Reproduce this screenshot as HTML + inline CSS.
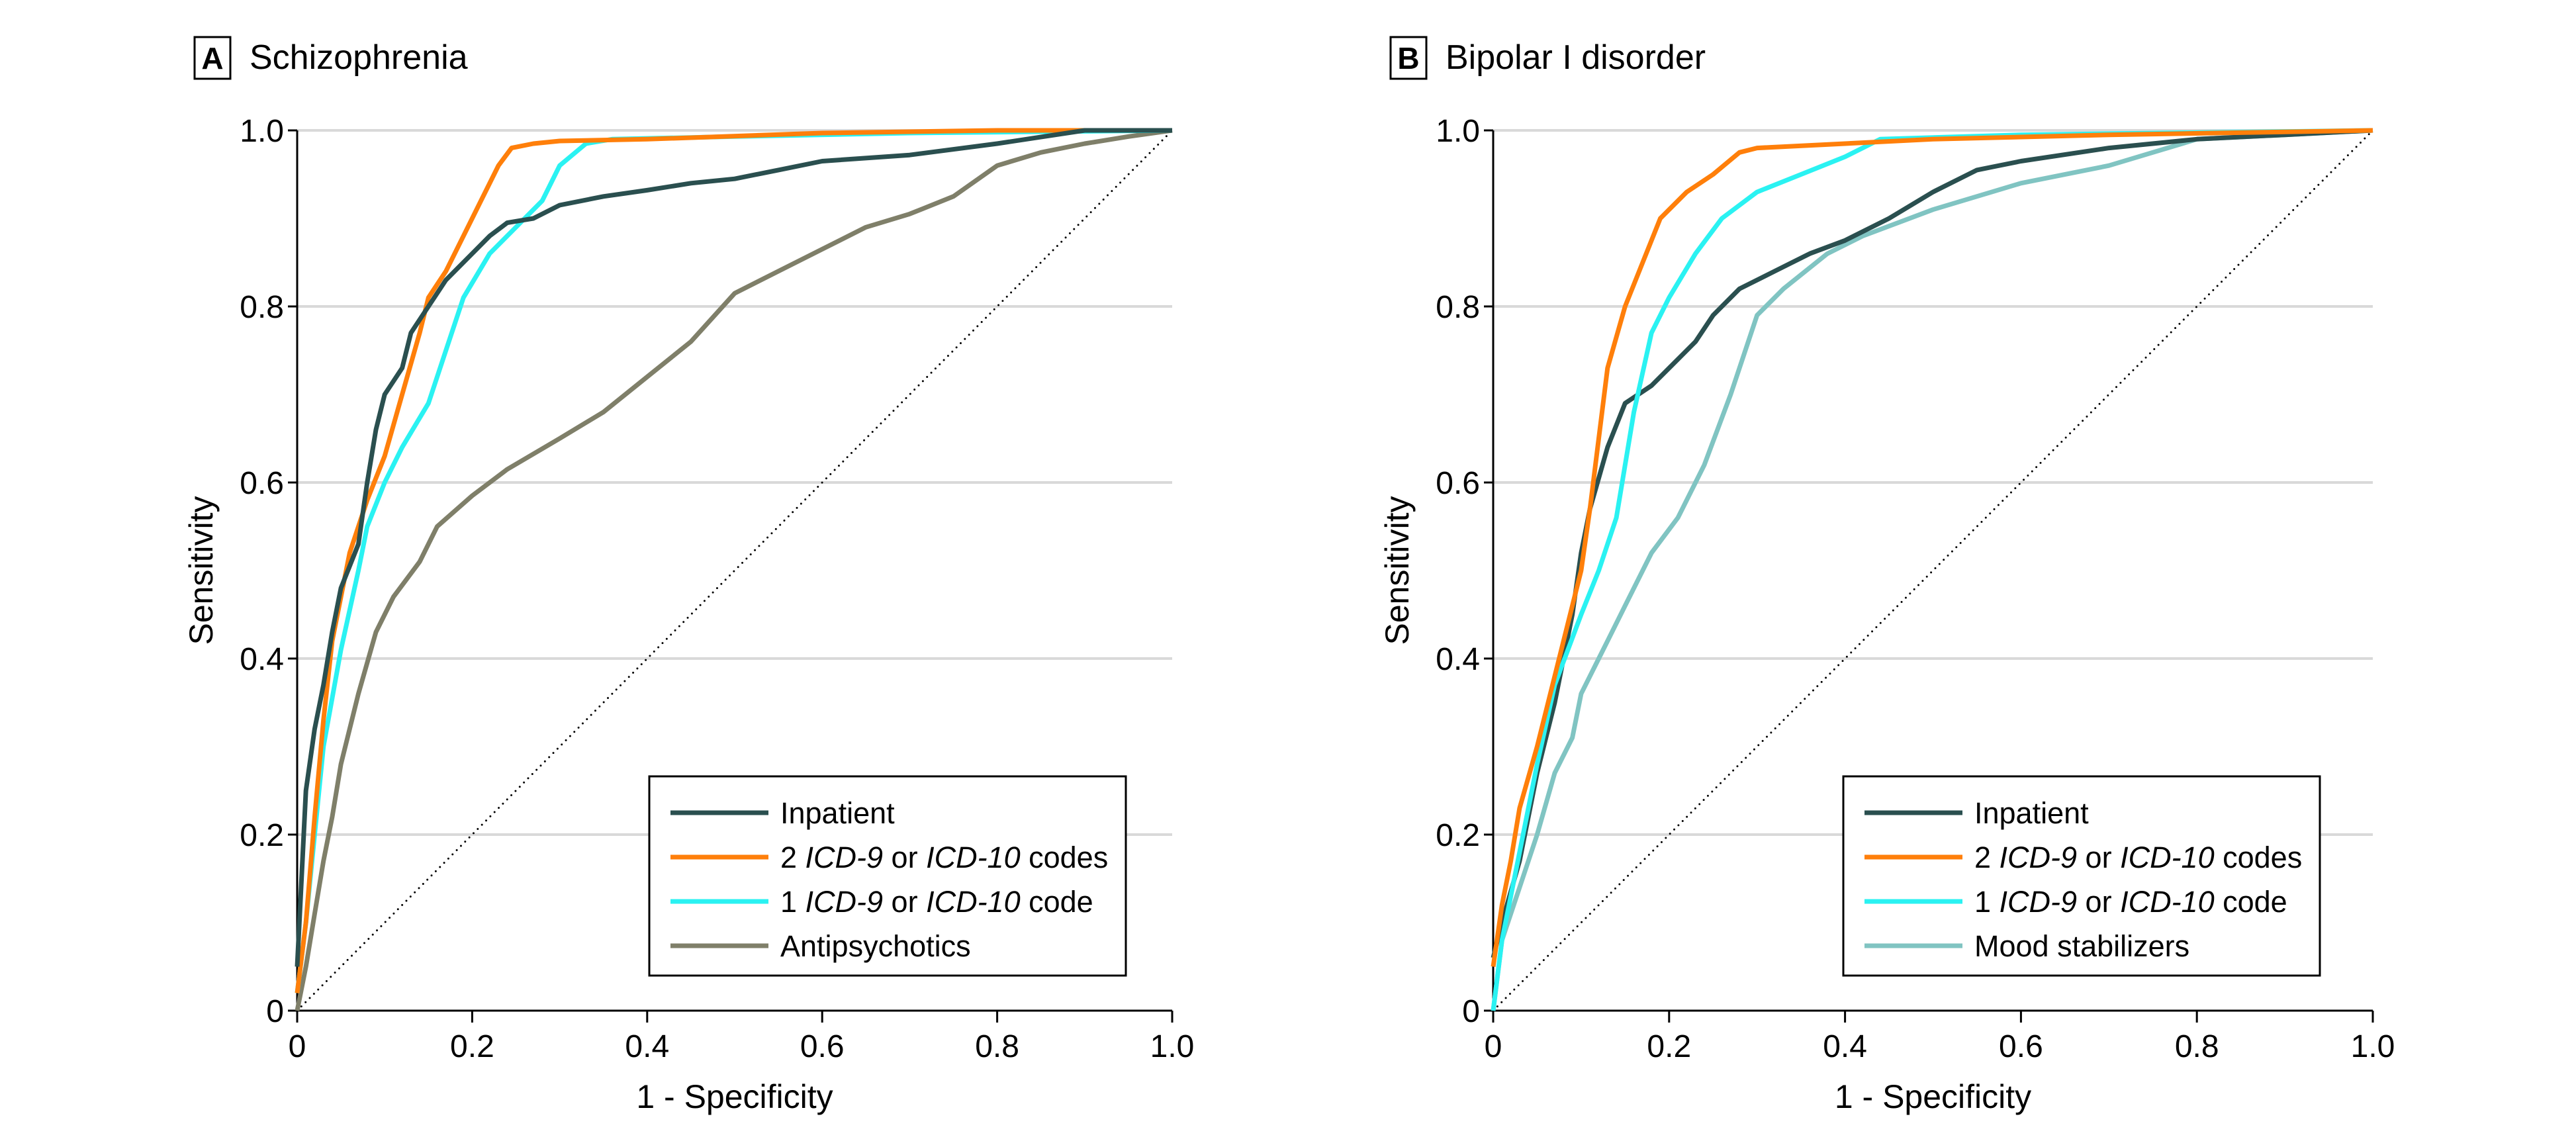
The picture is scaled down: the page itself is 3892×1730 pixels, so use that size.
<!DOCTYPE html>
<html><head><meta charset="utf-8"><style>
html,body{margin:0;padding:0;background:#fff}
svg text{font-family:"Liberation Sans Narrow","Liberation Sans",sans-serif;fill:#000}
</style></head><body>
<svg id="chart" width="3892" height="1725" viewBox="0 0 3892 1725" xmlns="http://www.w3.org/2000/svg"></svg>
<script>
const xTicks=[0,0.2,0.4,0.6,0.8,1.0];
const xTickLabels=["0","0.2","0.4","0.6","0.8","1.0"];
const yTicks=[0,0.2,0.4,0.6,0.8,1.0];
const yTickLabels=["0","0.2","0.4","0.6","0.8","1.0"];
const aInpatient=[[0,0.05],[0.005,0.15],[0.01,0.25],[0.02,0.32],[0.03,0.37],[0.04,0.43],[0.05,0.48],[0.07,0.53],[0.08,0.6],[0.09,0.66],[0.1,0.7],[0.12,0.73],[0.13,0.77],[0.15,0.8],[0.17,0.83],[0.2,0.86],[0.22,0.88],[0.24,0.895],[0.27,0.9],[0.3,0.915],[0.35,0.925],[0.4,0.932],[0.45,0.94],[0.5,0.945],[0.55,0.955],[0.6,0.965],[0.7,0.972],[0.8,0.985],[0.9,1.0],[1,1]];
const aTwoCodes=[[0,0.02],[0.01,0.1],[0.02,0.22],[0.03,0.33],[0.04,0.42],[0.06,0.52],[0.08,0.58],[0.1,0.63],[0.12,0.7],[0.14,0.77],[0.15,0.81],[0.17,0.84],[0.19,0.88],[0.21,0.92],[0.23,0.96],[0.245,0.98],[0.27,0.985],[0.3,0.988],[0.4,0.99],[0.6,0.997],[0.8,1],[1,1]];
const aOneCode=[[0,0.02],[0.01,0.1],[0.02,0.2],[0.03,0.3],[0.05,0.41],[0.07,0.5],[0.08,0.55],[0.1,0.6],[0.12,0.64],[0.15,0.69],[0.17,0.75],[0.19,0.81],[0.22,0.86],[0.25,0.89],[0.28,0.92],[0.3,0.96],[0.33,0.985],[0.36,0.99],[0.5,0.993],[0.7,0.997],[1,1]];
const aAntipsychotics=[[0,0],[0.01,0.05],[0.02,0.11],[0.03,0.17],[0.04,0.22],[0.05,0.28],[0.07,0.36],[0.09,0.43],[0.11,0.47],[0.14,0.51],[0.16,0.55],[0.2,0.585],[0.24,0.615],[0.3,0.65],[0.35,0.68],[0.4,0.72],[0.45,0.76],[0.5,0.815],[0.55,0.84],[0.6,0.865],[0.65,0.89],[0.7,0.905],[0.75,0.925],[0.8,0.96],[0.85,0.975],[0.9,0.985],[0.95,0.993],[1,1]];
const bInpatient=[[0,0.06],[0.01,0.1],[0.03,0.17],[0.05,0.27],[0.07,0.35],[0.09,0.45],[0.1,0.52],[0.11,0.57],[0.13,0.64],[0.15,0.69],[0.18,0.71],[0.2,0.73],[0.23,0.76],[0.25,0.79],[0.28,0.82],[0.32,0.84],[0.36,0.86],[0.4,0.875],[0.45,0.9],[0.5,0.93],[0.55,0.955],[0.6,0.965],[0.7,0.98],[0.8,0.99],[0.9,0.995],[1,1]];
const bTwoCodes=[[0,0.05],[0.01,0.12],[0.02,0.17],[0.03,0.23],[0.05,0.3],[0.07,0.38],[0.09,0.46],[0.1,0.5],[0.11,0.57],[0.12,0.65],[0.13,0.73],[0.15,0.8],[0.17,0.85],[0.19,0.9],[0.22,0.93],[0.25,0.95],[0.28,0.975],[0.3,0.98],[0.4,0.985],[0.5,0.99],[0.7,0.995],[1,1]];
const bOneCode=[[0,0],[0.01,0.08],[0.03,0.18],[0.05,0.28],[0.07,0.37],[0.1,0.45],[0.12,0.5],[0.14,0.56],[0.16,0.68],[0.18,0.77],[0.2,0.81],[0.23,0.86],[0.26,0.9],[0.3,0.93],[0.35,0.95],[0.4,0.97],[0.44,0.99],[0.6,0.995],[1,1]];
const bMood=[[0,0],[0.01,0.08],[0.03,0.14],[0.05,0.2],[0.07,0.27],[0.09,0.31],[0.1,0.36],[0.13,0.42],[0.15,0.46],[0.18,0.52],[0.21,0.56],[0.24,0.62],[0.27,0.7],[0.3,0.79],[0.33,0.82],[0.38,0.86],[0.42,0.88],[0.5,0.91],[0.6,0.94],[0.7,0.96],[0.8,0.99],[0.9,0.995],[1,1]];

const NS="http://www.w3.org/2000/svg";
const svg=document.getElementById('chart');
function mk(tag,attrs,parent,text){const e=document.createElementNS(NS,tag);for(const k in attrs)e.setAttribute(k,attrs[k]);if(text!==undefined)e.textContent=text;(parent||svg).appendChild(e);return e;}
const Y0=1527,Y1=197;
const COL={inp:"#2a4f4f",two:"#ff7f0a",one:"#2af2f2",anti:"#7f7f69",mood:"#80c4c2"};

function panel(id,x0,x1,letter,title,series,legendX){
  const g=mk('g',{});
  
  
  const sx=v=>x0+v*(x1-x0), sy=v=>Y0-v*(Y0-Y1);
  const box=mk('rect',{x:x0-155,y:56,width:54,height:63,fill:'none',stroke:'#000','stroke-width':3},g);
  
  const lt=mk('text',{x:x0-128,y:104,'font-size':46,'font-weight':'bold','text-anchor':'middle'},g,letter);
  
  const tt=mk('text',{x:x0-72,y:104,'font-size':52},g,title);
  
  yTicks.forEach((t,i)=>{
    if(t>0){const gl=mk('line',{x1:x0,x2:x1,y1:sy(t),y2:sy(t),stroke:'#d9d9d9','stroke-width':4},g);
      }
    const tk=mk('line',{x1:x0-14,x2:x0,y1:sy(t),y2:sy(t),stroke:'#000','stroke-width':3},g);
    
    const tl=mk('text',{x:x0-20,y:sy(t)+17,'font-size':48,'text-anchor':'end'},g,yTickLabels[i]);
    
  });
  xTicks.forEach((t,i)=>{
    const tk=mk('line',{x1:sx(t),x2:sx(t),y1:Y0,y2:Y0+18,stroke:'#000','stroke-width':3},g);
    
    const tl=mk('text',{x:sx(t),y:Y0+70,'font-size':48,'text-anchor':'middle'},g,xTickLabels[i]);
    
  });
  const ax=mk('path',{d:`M${x0},${Y1} V${Y0} H${x1}`,fill:'none',stroke:'#000','stroke-width':3},g);
  
  const xt=mk('text',{x:(x0+x1)/2,y:1674,'font-size':50,'text-anchor':'middle'},g,'1 - Specificity');
  
  const yt=mk('text',{x:0,y:0,'font-size':50,'text-anchor':'middle',transform:`translate(${x0-128},${(Y0+Y1)/2}) rotate(-90)`},g,'Sensitivity');
  
  const dg=mk('line',{x1:sx(0),y1:sy(0),x2:sx(1),y2:sy(1),stroke:'#000','stroke-width':3,'stroke-dasharray':'0 9','stroke-linecap':'round'},g);
  
  series.forEach(s=>{
    const d=s.data.map((p,i)=>(i?'L':'M')+sx(p[0]).toFixed(1)+','+sy(p[1]).toFixed(1)).join(' ');
    const pl=mk('path',{d:d,fill:'none',stroke:s.color,'stroke-width':7,'stroke-linejoin':'round'},g);
    
  });
  const lg=mk('g',{},g);
  
  mk('rect',{x:legendX,y:1173,width:720,height:301,fill:'#fff',stroke:'#000','stroke-width':3},lg);
  const labels=[...series].sort((a,b)=>a.order-b.order);
  labels.forEach((s,i)=>{
    const yy=1228+i*67;
    const en=mk('g',{},lg);
    
    mk('line',{x1:legendX+32,x2:legendX+180,y1:yy,y2:yy,stroke:s.color,'stroke-width':7},en);
    const t=mk('text',{x:legendX+198,y:yy+16,'font-size':45},en);
    t.innerHTML=s.label;
  });
}
panel('a',449,1771,'A','Schizophrenia',[
 {key:'antipsychotics',data:aAntipsychotics,color:COL.anti,label:'Antipsychotics',order:3},
 {key:'one-code',data:aOneCode,color:COL.one,label:'1 <tspan font-style="italic">ICD-9</tspan> or <tspan font-style="italic">ICD-10</tspan> code',order:2},
 {key:'two-codes',data:aTwoCodes,color:COL.two,label:'2 <tspan font-style="italic">ICD-9</tspan> or <tspan font-style="italic">ICD-10</tspan> codes',order:1},
 {key:'inpatient',data:aInpatient,color:COL.inp,label:'Inpatient',order:0}
],981);
panel('b',2256,3585,'B','Bipolar I disorder',[
 {key:'mood-stabilizers',data:bMood,color:COL.mood,label:'Mood stabilizers',order:3},
 {key:'inpatient',data:bInpatient,color:COL.inp,label:'Inpatient',order:0},
 {key:'one-code',data:bOneCode,color:COL.one,label:'1 <tspan font-style="italic">ICD-9</tspan> or <tspan font-style="italic">ICD-10</tspan> code',order:2},
 {key:'two-codes',data:bTwoCodes,color:COL.two,label:'2 <tspan font-style="italic">ICD-9</tspan> or <tspan font-style="italic">ICD-10</tspan> codes',order:1}
],2785);
</script>
</body></html>
